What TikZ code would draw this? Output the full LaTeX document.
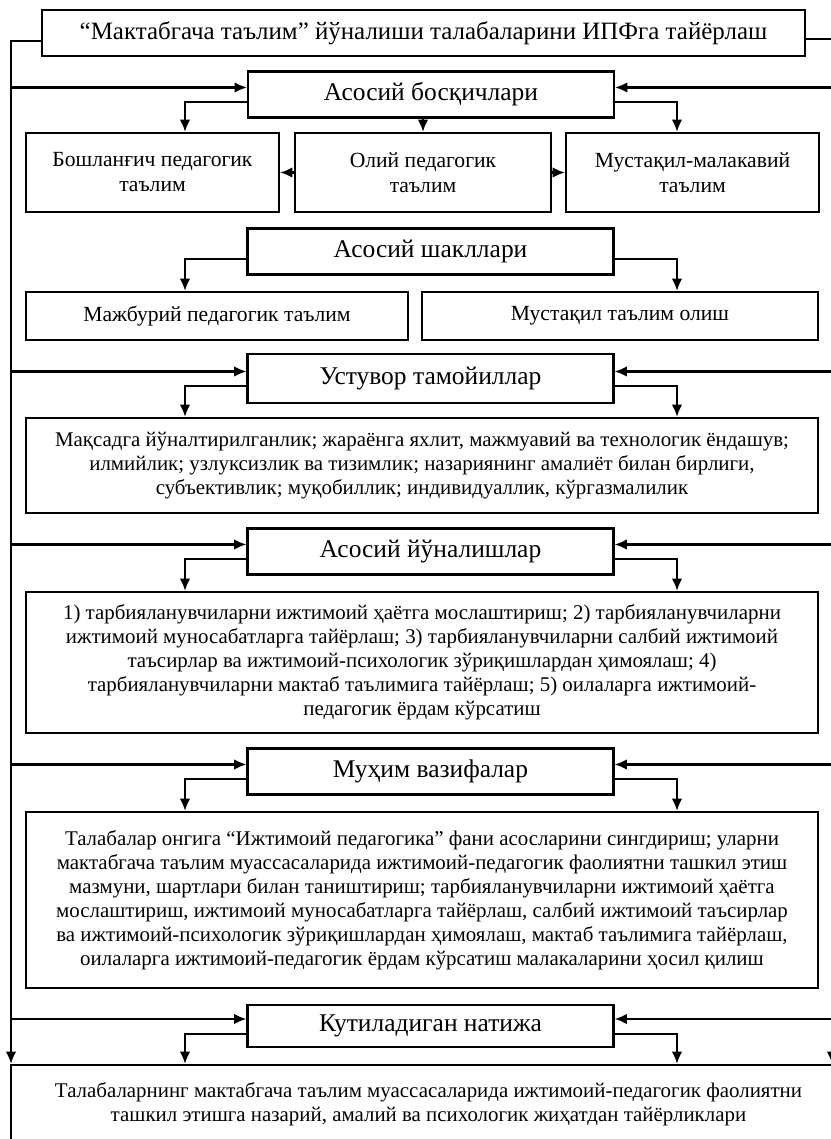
\documentclass[tikz,border=0pt]{standalone}
\usepackage{fontspec}
\setmainfont{Liberation Serif}
\usetikzlibrary{arrows.meta}
\tikzset{
  box/.style={draw,line width=1.2pt,align=center,inner sep=2pt},
  headbox/.style={box,minimum width=366*0.02cm,minimum height=46*0.02cm,font=\fontsize{14.5}{17}\selectfont},
  subbox/.style={box,minimum height=48*0.02cm,font=\fontsize{12.3}{14.2}\selectfont},
  textbox/.style={box,minimum width=792*0.02cm,font=\fontsize{11.9}{13.66}\selectfont},
  link/.style={line width=1.2pt,-{Latex[length=7pt,width=6pt]}},
}
\begin{document}
\begin{tikzpicture}[x=0.02cm,y=-0.02cm]
\useasboundingbox (0,0) rectangle (831,1139);
\clip (0,0) rectangle (831,1139);
\node[headbox,minimum width=763*0.02cm,font=\fontsize{14.2}{17}\selectfont] (top) at (423.5,33) {“Мактабгача таълим” йўналиши талабаларини ИПФга тайёрлаш};
\node[headbox] (bosq) at (431,94.5) {Асосий босқичлари};
\node[subbox,minimum width=253*0.02cm,minimum height=79*0.02cm] (bosh) at (152.5,172.5) {Бошланғич педагогик\\таълим};
\node[subbox,minimum width=256*0.02cm,minimum height=79*0.02cm] (oliy) at (423,172.5) {Олий педагогик\\таълим};
\node[subbox,minimum width=253*0.02cm,minimum height=79*0.02cm] (must) at (692.5,172.5) {Мустақил-малакавий\\таълим};
\node[headbox] (shakl) at (430.5,251.5) {Асосий шакллари};
\node[subbox,minimum width=382*0.02cm] (majb) at (217,316) {Мажбурий педагогик таълим};
\node[subbox,minimum width=396*0.02cm] (mustt) at (620,316) {Мустақил таълим олиш};
\node[headbox,minimum height=49*0.02cm] (ustuv) at (430.5,378.5) {Устувор тамойиллар};
\node[textbox,minimum height=95*0.02cm] (tamoy) at (422,465.5) {Мақсадга йўналтирилганлик; жараёнга яхлит, мажмуавий ва технологик ёндашув;\\илмийлик; узлуксизлик ва тизимлик; назариянинг амалиёт билан бирлиги,\\субъективлик; муқобиллик; индивидуаллик, кўргазмалилик};
\node[headbox] (yunal) at (430.5,551.5) {Асосий йўналишлар};
\node[textbox,minimum height=141*0.02cm] (yunbox) at (422,662.5) {1) тарбияланувчиларни ижтимоий ҳаётга мослаштириш; 2) тарбияланувчиларни\\ижтимоий муносабатларга тайёрлаш; 3) тарбияланувчиларни салбий ижтимоий\\таъсирлар ва ижтимоий-психологик зўриқишлардан ҳимоялаш; 4)\\тарбияланувчиларни мактаб таълимига тайёрлаш; 5) оилаларга ижтимоий-\\педагогик ёрдам кўрсатиш};
\node[headbox] (muhim) at (430.5,771.5) {Муҳим вазифалар};
\node[textbox,minimum height=176*0.02cm] (vazbox) at (422,900) {Талабалар онгига “Ижтимоий педагогика” фани асосларини сингдириш; уларни\\мактабгача таълим муассасаларида ижтимоий-педагогик фаолиятни ташкил этиш\\мазмуни, шартлари билан таништириш; тарбияланувчиларни ижтимоий ҳаётга\\мослаштириш, ижтимоий муносабатларга тайёрлаш, салбий ижтимоий таъсирлар\\ва ижтимоий-психологик зўриқишлардан ҳимоялаш, мактаб таълимига тайёрлаш,\\оилаларга ижтимоий-педагогик ёрдам кўрсатиш малакаларини ҳосил қилиш};
\node[headbox,minimum height=42*0.02cm] (kutil) at (430.5,1026) {Кутиладиган натижа};
\node[textbox,minimum width=835*0.02cm,minimum height=78*0.02cm] (natija) at (428.5,1104) {Талабаларнинг мактабгача таълим муассасаларида ижтимоий-педагогик фаолиятни\\ташкил этишга назарий, амалий ва психологик жиҳатдан тайёрликлари};
\coordinate (lft) at (11,41);
\coordinate (rgt) at (832,39);
\coordinate (bl) at (185,0);
\coordinate (br) at (677,0);
\draw[link] (top.west |- lft) -- (lft) -- (lft |- natija.north);
\draw[link] (top.east |- rgt) -- (rgt) -- (rgt |- natija.north);
\foreach \h in {bosq,ustuv,yunal,muhim,kutil}{
  \path ([yshift=4pt]\h.west) coordinate (\h-l) ([yshift=4pt]\h.east) coordinate (\h-r);
  \draw[link] (lft |- \h-l) -- (\h-l);
  \draw[link] (rgt |- \h-r) -- (\h-r);
}
\foreach \h/\a/\b in {bosq/bosh/must,shakl/majb/mustt,ustuv/tamoy/tamoy,yunal/yunbox/yunbox,muhim/vazbox/vazbox,kutil/natija/natija}{
  \draw[link] ([yshift=-4.5pt]\h.west) -| (bl |- \a.north);
  \draw[link] ([yshift=-4.5pt]\h.east) -| (br |- \b.north);
}
\draw[link] (bosq.south -| oliy.north) -- (oliy.north);
\draw[link] (oliy.west) -- (bosh.east);
\draw[link] (oliy.east) -- (must.west);
\end{tikzpicture}
\end{document}
